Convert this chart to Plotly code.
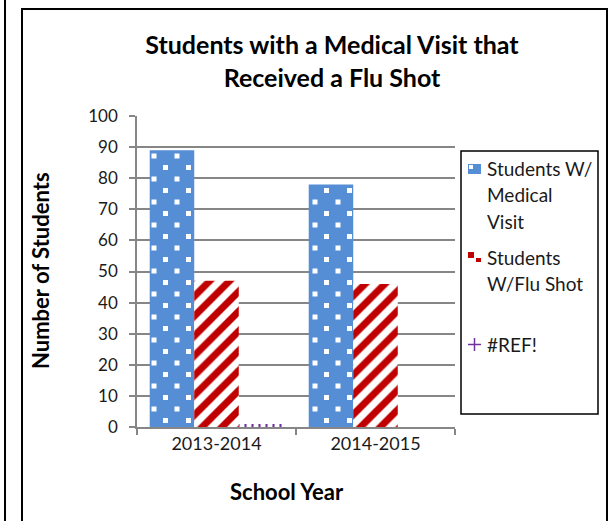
import plotly.graph_objects as go

categories = ["2013-2014", "2014-2015"]
medical_visit = [89, 78]
flu_shot = [47, 46]
ref_series = [1, 0]
y_ticks = [0, 10, 20, 30, 40, 50, 60, 70, 80, 90, 100]

W, H = 609, 521
L, R, T, B = 137, 455, 116, 427
FONT = "Lato"

def px_x(p):
    return (p - L) / (R - L)

def px_y(p):
    return (B - p) / (B - T)

fig = go.Figure()
fig.add_bar(
    x=categories, y=medical_visit, name="Students W/ Medical Visit",
    marker=dict(color="#558ED5", line=dict(width=0),
                pattern=dict(path="M3,3h5v5h-5z M14.5,14.5h5v5h-5z",
                             fgcolor="white", bgcolor="#558ED5", fgopacity=1,
                             size=23, fillmode="overlay")),
)
fig.add_bar(
    x=categories, y=flu_shot, name="Students W/Flu Shot",
    marker=dict(color="white", line=dict(width=0),
                pattern=dict(shape="/", fgcolor="#C00000", bgcolor="white", fgopacity=1,
                             size=14, solidity=0.5, fillmode="overlay")),
)
fig.add_bar(
    x=categories, y=ref_series, name="#REF!",
    marker=dict(color="white", line=dict(width=0),
                pattern=dict(shape="|", fgcolor="#7030A0", bgcolor="white", fgopacity=1,
                             size=7, solidity=0.3, fillmode="overlay")),
)

shapes = []
# page line at left
shapes.append(dict(type="line", xref="paper", yref="paper",
                   x0=px_x(5), x1=px_x(5), y0=px_y(530), y1=px_y(-10),
                   line=dict(color="black", width=2)))
# chart border
shapes.append(dict(type="rect", xref="paper", yref="paper",
                   x0=px_x(22), x1=px_x(607), y0=px_y(540), y1=px_y(9),
                   line=dict(color="black", width=2), fillcolor="rgba(0,0,0,0)", layer="above"))
# legend box
shapes.append(dict(type="rect", xref="paper", yref="paper",
                   x0=px_x(461), x1=px_x(598), y0=px_y(414), y1=px_y(151),
                   line=dict(color="black", width=1.5), fillcolor="rgba(0,0,0,0)"))
# legend symbols
shapes.append(dict(type="rect", xref="paper", yref="paper",
                   x0=px_x(468), x1=px_x(481), y0=px_y(174), y1=px_y(164),
                   line=dict(width=0), fillcolor="#558ED5"))
shapes.append(dict(type="rect", xref="paper", yref="paper",
                   x0=px_x(469), x1=px_x(473), y0=px_y(169), y1=px_y(165),
                   line=dict(width=0), fillcolor="white"))
shapes.append(dict(type="rect", xref="paper", yref="paper",
                   x0=px_x(468), x1=px_x(474), y0=px_y(258), y1=px_y(252),
                   line=dict(width=0), fillcolor="#C00000"))
shapes.append(dict(type="rect", xref="paper", yref="paper",
                   x0=px_x(476), x1=px_x(481), y0=px_y(262), y1=px_y(258),
                   line=dict(width=0), fillcolor="#C00000"))
shapes.append(dict(type="line", xref="paper", yref="paper",
                   x0=px_x(468), x1=px_x(481), y0=px_y(344.5), y1=px_y(344.5),
                   line=dict(color="#7030A0", width=1.5)))
shapes.append(dict(type="line", xref="paper", yref="paper",
                   x0=px_x(474.5), x1=px_x(474.5), y0=px_y(338), y1=px_y(351),
                   line=dict(color="#7030A0", width=1.5)))

annotations = []
leg_lines = [("Students W/", 168), ("Medical", 194), ("Visit", 221),
             ("Students", 257), ("W/Flu Shot", 283), ("#REF!", 344)]
for txt, yy in leg_lines:
    annotations.append(dict(text=txt, xref="paper", yref="paper", x=px_x(485), y=px_y(yy),
                            xanchor="left", yanchor="middle", showarrow=False,
                            font=dict(family=FONT, size=19, color="#1a1a1a")))
annotations.append(dict(text="<b>Number of Students</b>", xref="paper", yref="paper",
                        x=px_x(40), y=px_y(271), textangle=-90, showarrow=False,
                        xanchor="center", yanchor="middle",
                        font=dict(family=FONT, size=22, color="black")))
annotations.append(dict(text="<b>School Year</b>", xref="paper", yref="paper",
                        x=px_x(287), y=px_y(491), showarrow=False,
                        xanchor="center", yanchor="middle",
                        font=dict(family=FONT, size=22, color="black")))

fig.update_layout(
    width=W, height=H,
    margin=dict(l=L, r=W - R, t=T, b=H - B, pad=0),
    paper_bgcolor="white", plot_bgcolor="white",
    barmode="group", bargap=0.16, bargroupgap=0,
    showlegend=False,
    title=dict(text="<b>Students with a Medical Visit that<br>Received a Flu Shot</b>",
               x=332 / W, xanchor="center", y=1 - 54 / H, yanchor="middle",
               xref="container", yref="container",
               font=dict(family=FONT, size=25, color="black")),
    font=dict(family=FONT, size=15, color="#1a1a1a"),
    shapes=shapes, annotations=annotations,
)
fig.update_xaxes(
    type="category", tickson="boundaries", ticks="outside", ticklen=6,
    tickcolor="#868686", tickwidth=1.5,
    showline=True, linecolor="#868686", linewidth=1.5, showgrid=False,
    tickfont=dict(family=FONT, size=18, color="#1a1a1a"),
)
fig.update_yaxes(
    range=[0, 100], tickvals=y_ticks, ticks="outside", ticklen=6,
    tickcolor="#868686", tickwidth=1.5,
    showline=True, linecolor="#868686", linewidth=1.5,
    showgrid=True, gridcolor="#868686", gridwidth=1.5, zeroline=False,
    tickfont=dict(family=FONT, size=17, color="#1a1a1a"), ticklabelstandoff=8,
)

fig.write_html("out.html", config={"displayModeBar": False},
               post_script="document.body.style.margin='0';document.body.style.overflow='hidden';")
